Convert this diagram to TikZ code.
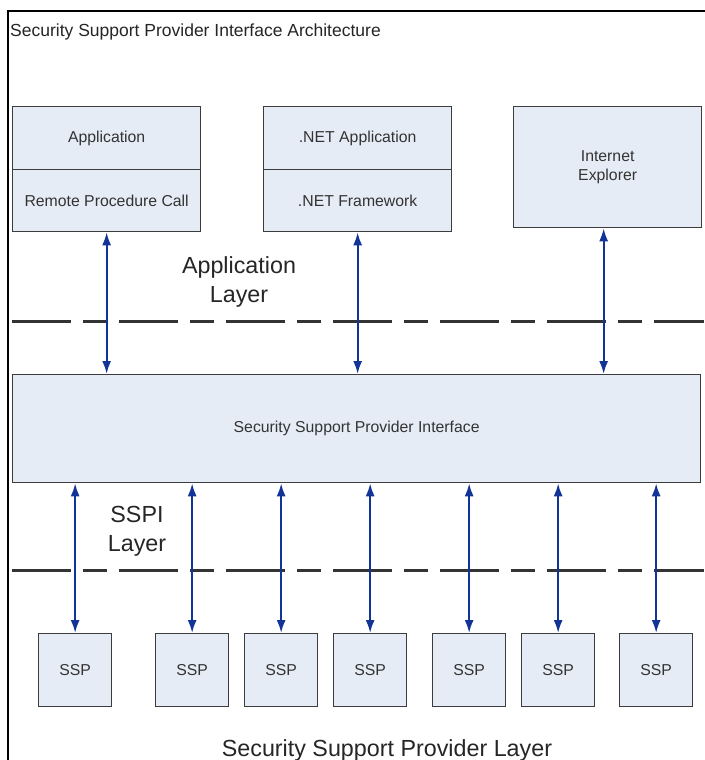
\documentclass[tikz,border=0pt]{standalone}
\usepackage{fontspec}
\setmainfont{Liberation Sans}
\usetikzlibrary{arrows.meta}
\definecolor{boxfill}{RGB}{230,236,246}
\definecolor{boxline}{RGB}{60,60,60}
\definecolor{arrowblue}{RGB}{18,52,150}
\begin{document}
\begin{tikzpicture}[x=1pt,y=-1pt,
  box/.style={draw=boxline,fill=boxfill,line width=1.3pt,inner sep=0pt,anchor=north west,
    font=\fontsize{15.8}{18.5}\selectfont,align=center,text=black!80},
  sspbox/.style={box,minimum width=73pt,minimum height=73pt},
  layerline/.style={line width=3pt,draw=black!80,dash pattern=on 59pt off 12pt on 24pt off 12pt},
  link/.style={draw=arrowblue,line width=2pt,{Latex[length=13pt,width=9pt]}-{Latex[length=13pt,width=9pt]}},
  layerlabel/.style={font=\fontsize{23.3}{29}\selectfont,align=center,text=black!85}]
\useasboundingbox (0,0) rectangle (704,760);
\fill[white] (0,0) rectangle (704,760);
% outer frame (cropped on right and bottom)
\draw[line width=2pt] (8,762) -- (8,11) -- (706,11);
\node[anchor=base west,font=\fontsize{17.5}{21}\selectfont,text=black!85,inner sep=0pt] (title) at (10,37) {Security Support Provider Interface Architecture};
% top boxes
\node[box,minimum width=188pt,minimum height=63pt] (app) at (12,106) {Application};
\node[box,minimum width=188pt,minimum height=62pt] (rpc) at (12,169) {Remote Procedure Call};
\node[box,minimum width=188pt,minimum height=63pt] (netapp) at (263,106) {.NET Application};
\node[box,minimum width=188pt,minimum height=62pt] (netfw) at (263,169) {.NET Framework};
\node[box,minimum width=188pt,minimum height=121pt] (ie) at (513,106) {Internet\\Explorer};
% SSPI box
\node[box,minimum width=688pt,minimum height=108pt] (sspi) at (12,374) {Security Support Provider Interface};
% SSP boxes
\node[sspbox] (s1) at (38,633) {SSP};
\node[sspbox] (s2) at (155,633) {SSP};
\node[sspbox] (s3) at (244,633) {SSP};
\node[sspbox] (s4) at (333,633) {SSP};
\node[sspbox] (s5) at (432,633) {SSP};
\node[sspbox] (s6) at (521,633) {SSP};
\node[sspbox] (s7) at (619,633) {SSP};
% layer lines
\draw[layerline] (12,321) -- (704,321);
\draw[layerline] (12,570) -- (704,570);
% layer labels
\node[layerlabel] (applayer) at (239,282) {Application\\Layer};
\node[layerlabel] (sspilayer) at (137,531) {SSPI\\Layer};
\node[layerlabel,anchor=base] (ssplayer) at (387,756) {Security Support Provider Layer};
% connectors
\draw[link] (rpc.south) -- (rpc.south |- sspi.north);
\draw[link] (netfw.south) -- (netfw.south |- sspi.north);
\draw[link] ([xshift=-4pt]ie.south) -- ([xshift=-4pt]ie.south |- sspi.north);
\foreach \s in {s1,s2,s3,s4,s5,s6,s7}{
  \draw[link] (\s.north) -- (\s.north |- sspi.south);
}
\end{tikzpicture}
\end{document}
